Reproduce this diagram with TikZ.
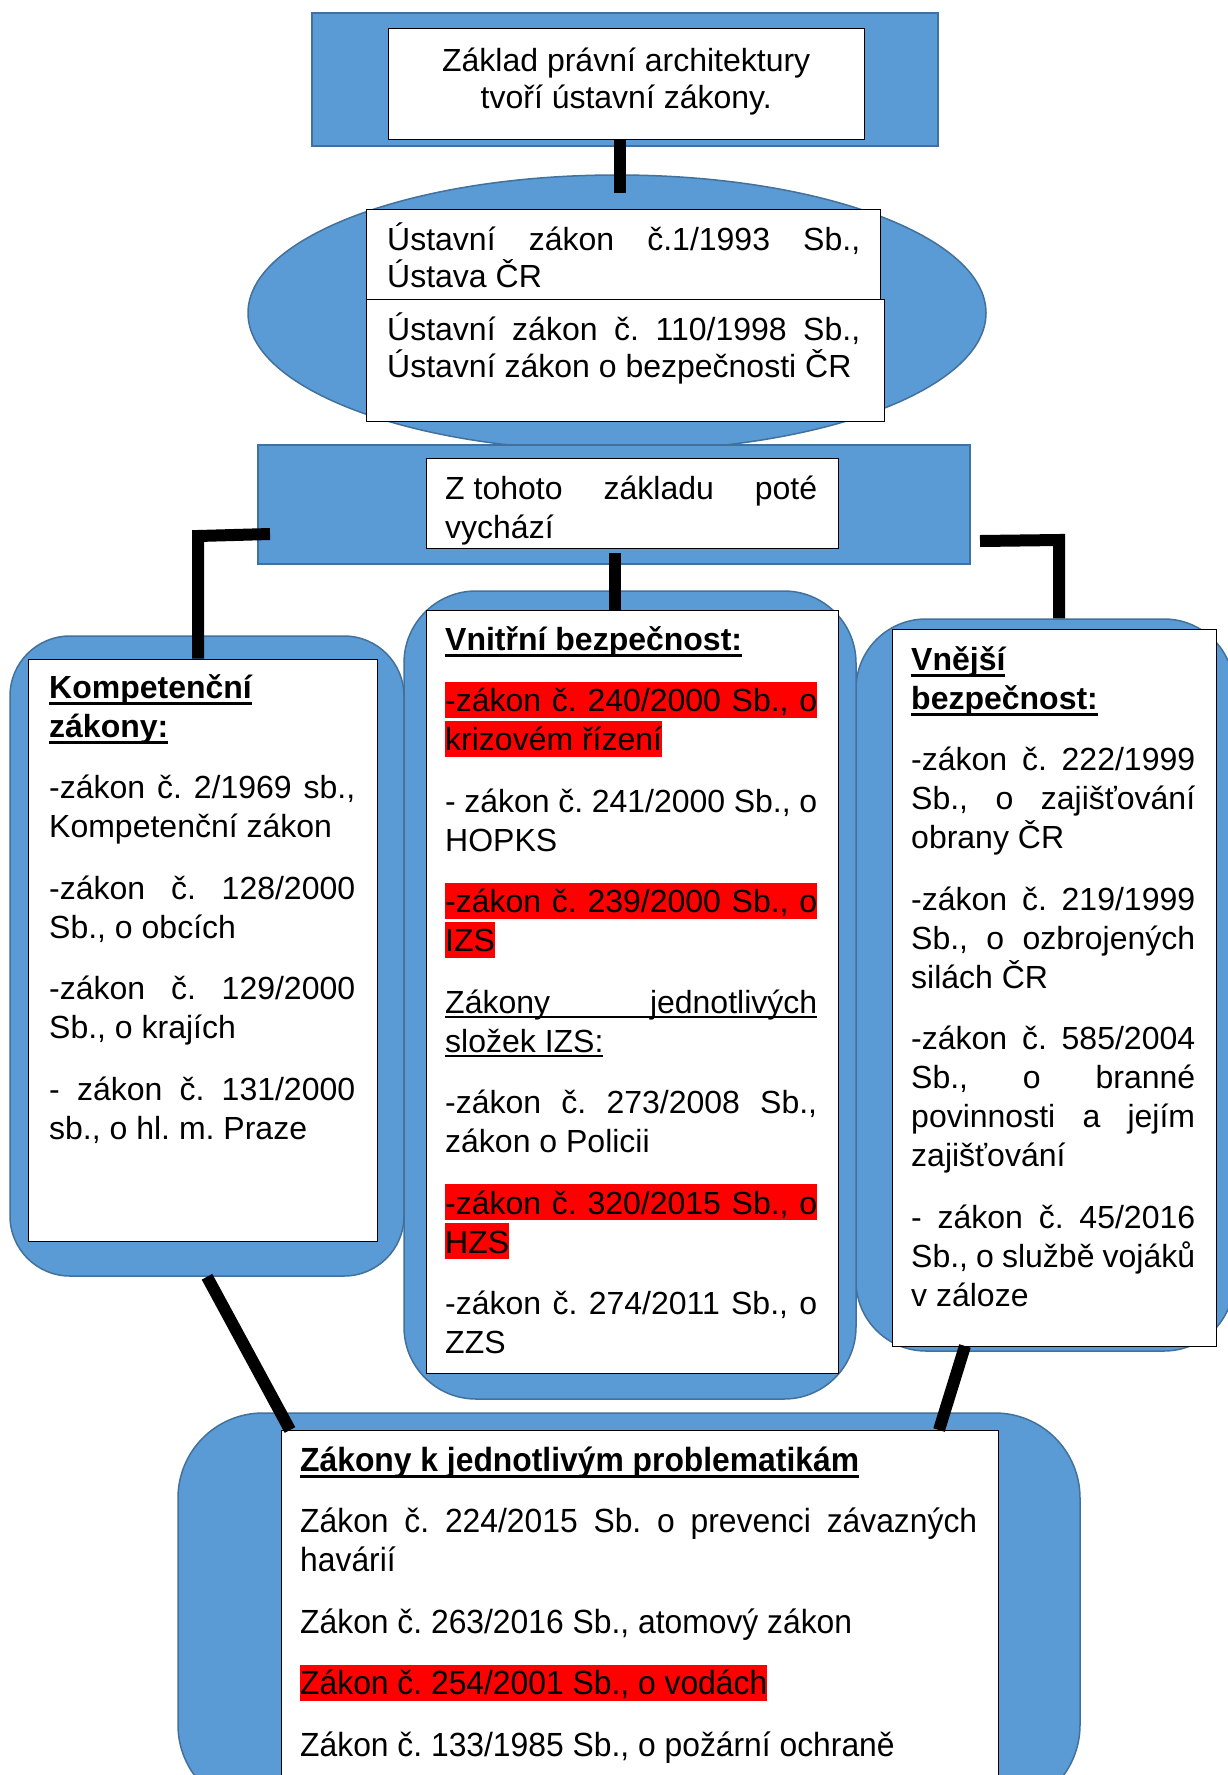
\documentclass[tikz,border=0pt]{standalone}
\usepackage{fontspec}
\setmainfont{Liberation Sans}
\newfontfamily\narrowfont[FakeStretch=0.95]{Liberation Sans}
\usetikzlibrary{shapes.geometric}
\definecolor{boxblue}{HTML}{5B9BD5}
\definecolor{boxline}{HTML}{41719C}
\definecolor{hlred}{HTML}{FF0000}
\frenchspacing
\newcommand\fs{\fontsize{32pt}{39pt}\selectfont}
\newcommand\jline[1]{\hbox to\linewidth{#1}}
\newcommand\nline[1]{\hbox{#1}}
\newcommand\pgap{\vskip 22.5pt}
\newcommand\hlmark[1]{{\fboxsep=0pt\colorbox{hlred}{\rule[-6pt]{0pt}{36pt}#1}}}
\newcommand\rjline[1]{\hbox{\hlmark{\hbox to\linewidth{#1}}}}
\newcommand\rnline[1]{\hbox{\hlmark{#1}}}
\newcommand\ulthin[1]{\setbox0\hbox{#1}\rlap{\rule[-5pt]{\wd0}{2pt}}\box0}
\newcommand\ulbold[1]{\setbox0\hbox{\bfseries #1}\rlap{\rule[-7pt]{\wd0}{3pt}}\box0}
\begin{document}
\begin{tikzpicture}[x=1pt,y=-1pt,
  bluebox/.style={draw=boxline, line width=1.5pt, fill=boxblue, inner sep=0pt, rectangle},
  whitebox/.style={draw=black, line width=1pt, fill=white, inner sep=0pt, rectangle},
  txt/.style={inner sep=0pt, anchor=base west},
  conn/.style={line width=12pt, draw=black}]
\useasboundingbox (0,0) rectangle (1228,1775);
\fill[white] (0,0) rectangle (1228,1775);
\clip (0,0) rectangle (1228,1775);

% top block
\node[bluebox, minimum width=626pt, minimum height=133pt] (topblue) at (625,79.5) {};
\node[whitebox, minimum width=476pt, minimum height=111pt] (topwhite) at (626,83.5) {};
\node[txt] (toptext) at (388,71) {\parbox[t]{476pt}{\fontsize{32pt}{37pt}\selectfont\centering
Základ právní architektury\par tvoří ústavní zákony.\par}};

% ellipse block
\node[ellipse, draw=boxline, line width=1.5pt, fill=boxblue, inner sep=0pt,
  minimum width=738pt, minimum height=276pt] (ell) at (617,313) {};
\node[whitebox, minimum width=514pt, minimum height=90pt] (ub1) at (623,254) {};
\node[whitebox, minimum width=518pt, minimum height=122pt] (ub2) at (625,360) {};
\node[txt] (ub1t) at (387,250) {\parbox[t]{473pt}{\fontsize{32pt}{37.5pt}\selectfont
\jline{Ústavní zákon č.1/1993 Sb.,}
\nline{Ústava ČR}}};
\node[txt] (ub2t) at (387,340) {\parbox[t]{473pt}{\fontsize{32pt}{37.5pt}\selectfont
\jline{Ústavní zákon č. 110/1998 Sb.,}
\nline{Ústavní zákon o bezpečnosti ČR}}};

% second block
\node[bluebox, minimum width=712pt, minimum height=119pt] (zblue) at (614,504.5) {};
\node[whitebox, minimum width=412pt, minimum height=90pt] (zwhite) at (632,503) {};
\node[txt] (ztext) at (445,499) {\parbox[t]{372pt}{\fontsize{32pt}{39pt}\selectfont
\jline{Z\kern8.9pt tohoto základu poté}
\nline{vychází}}};

% left column
\node[bluebox, rounded corners=60pt, minimum width=394pt, minimum height=640pt] (kblue) at (207,956) {};
\node[whitebox, minimum width=349pt, minimum height=582pt] (kwhite) at (202.5,950) {};
\node[txt] (ktext) at (49,698) {\parbox[t]{306pt}{\fs
\nline{\ulbold{Kompetenční}}
\nline{\ulbold{zákony:}}\pgap
\jline{-zákon č. 2/1969 sb.,}
\nline{Kompetenční zákon}\pgap
\jline{-zákon č. 128/2000}
\nline{Sb., o obcích}\pgap
\jline{-zákon č. 129/2000}
\nline{Sb., o krajích}\pgap
\jline{- zákon č. 131/2000}
\nline{sb., o hl. m. Praze}}};

% right column
\node[bluebox, rounded corners=70pt, minimum width=378pt, minimum height=732pt] (vjblue) at (1045,985) {};
\node[whitebox, minimum width=324pt, minimum height=717pt] (vjwhite) at (1054,987.5) {};
\node[txt] (vjtext) at (911,670) {\parbox[t]{284pt}{\fs
\nline{\ulbold{Vnější}}
\nline{\ulbold{bezpečnost:}}\pgap
\jline{-zákon č. 222/1999}
\jline{Sb., o zajišťování}
\nline{obrany ČR}\pgap
\jline{-zákon č. 219/1999}
\jline{Sb., o ozbrojených}
\nline{silách ČR}\pgap
\jline{-zákon č. 585/2004}
\jline{Sb., o branné}
\jline{povinnosti a jejím}
\nline{zajišťování}\pgap
\jline{- zákon č. 45/2016}
\jline{Sb., o službě vojáků}
\nline{v záloze}}};

% middle column
\node[bluebox, rounded corners=72pt, minimum width=452pt, minimum height=808pt] (vnblue) at (630,995) {};
\node[whitebox, minimum width=412pt, minimum height=763pt] (vnwhite) at (632,991.5) {};
\node[txt] (vntext) at (445,650) {\parbox[t]{372pt}{\fs
\nline{\ulbold{Vnitřní bezpečnost:}}\pgap
\rjline{-zákon č. 240/2000 Sb., o}
\rnline{krizovém řízení}\pgap
\jline{- zákon č. 241/2000 Sb., o}
\nline{HOPKS}\pgap
\rjline{-zákon č. 239/2000 Sb., o}
\rnline{IZS}\pgap
\nline{\ulthin{\hbox to\linewidth{Zákony jednotlivých}}}
\nline{\ulthin{složek IZS:}}\pgap
\jline{-zákon č. 273/2008 Sb.,}
\nline{zákon o Policii}\pgap
\rjline{-zákon č. 320/2015 Sb., o}
\rnline{HZS}\pgap
\jline{-zákon č. 274/2011 Sb., o}
\nline{ZZS}}};

% bottom block
\node[bluebox, rounded corners=85pt, minimum width=902pt, minimum height=397pt] (bblue) at (629,1611.5) {};
\node[whitebox, minimum width=717pt, minimum height=370pt] (bwhite) at (639.5,1615) {};
\node[txt] (btext) at (300,1471) {\parbox[t]{677pt}{\narrowfont\fontsize{33.5pt}{39pt}\selectfont
\nline{\ulbold{Zákony k jednotlivým problematikám}}\pgap
\jline{Zákon č. 224/2015 Sb. o prevenci závazných}
\nline{havárií}\pgap
\nline{Zákon č. 263/2016 Sb., atomový zákon}\pgap
\rnline{Zákon č. 254/2001 Sb., o vodách}\pgap
\nline{Zákon č. 133/1985 Sb., o požární ochraně}}};

% connectors
\coordinate (c1e) at (620,193);
\draw[conn] (topwhite.south -| c1e) -- (c1e);
\coordinate (c2s) at (615,553);
\draw[conn] (c2s) -- (c2s |- vnwhite.north);
\coordinate (lA) at (270,534);
\coordinate (lB) at (198,536);
\draw[conn] (lA) -- (lB) -- (lB |- kwhite.north);
\coordinate (rA) at (980,541);
\coordinate (rB) at (1059,540);
\draw[conn] (rA) -- (rB) -- (rB |- vjblue.north);
\coordinate (blE) at (290,1430);
\draw[conn] (kblue.south) -- (blE);
\coordinate (brS) at (965,1346);
\coordinate (brE) at (939,1430);
\draw[conn] (brS) -- (brE);
\end{tikzpicture}
\end{document}
